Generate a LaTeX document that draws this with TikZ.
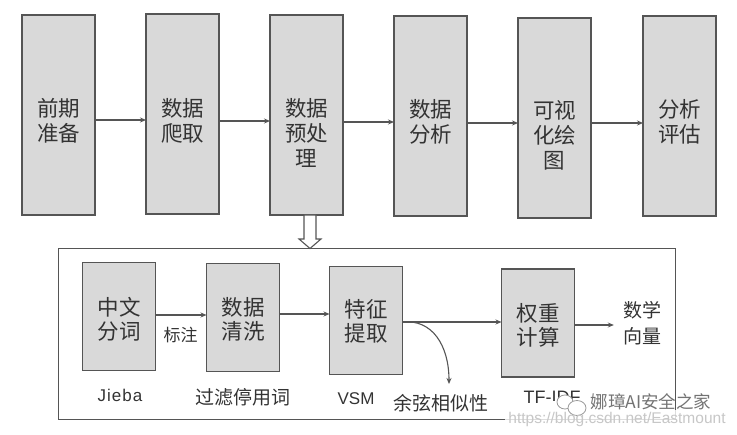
\documentclass[tikz,border=0pt]{standalone}
\usepackage{fontspec}
\setmainfont{Liberation Sans}
\newfontfamily\cjk{Noto Sans CJK SC}
\definecolor{linec}{HTML}{555555}
\definecolor{boxc}{HTML}{D9D9D9}
\definecolor{textc}{HTML}{333333}
\usetikzlibrary{arrows.meta}
\tikzset{
  tallbox/.style={draw=linec,fill=boxc,line width=1.1pt,minimum width=73pt,minimum height=200pt,inner sep=0pt,outer sep=0pt},
  lowbox/.style={draw=linec,fill=boxc,line width=1.1pt,minimum width=73pt,minimum height=108pt,inner sep=0pt,outer sep=0pt},
  bigtext/.style={font=\cjk\fontsize{21.5}{25}\selectfont,text=textc,align=center,inner sep=0pt},
  midtext/.style={font=\cjk\fontsize{21.5}{24}\selectfont,text=textc,align=center,inner sep=0pt},
  smalltext/.style={font=\cjk\fontsize{19}{26}\selectfont,text=textc,align=center,inner sep=0pt},
  labeltext/.style={font=\cjk\fontsize{17}{20}\selectfont,text=textc,inner sep=0pt},
  latintext/.style={font=\fontsize{17}{20}\selectfont,text=textc,inner sep=0pt},
  flow/.style={draw=linec,line width=1.1pt,-{Stealth[length=6pt,width=5pt]}},
}
\begin{document}
\begin{tikzpicture}[x=1pt,y=-1pt]
\useasboundingbox (0,0) rectangle (737,435);
\fill[white] (0,0) rectangle (737,435);
% lower frame
\node[draw=linec,line width=1pt,fill=white,minimum width=617pt,minimum height=171pt,inner sep=0pt,outer sep=0pt] (frame) at (366.5,334.5) {};
% top row
\node[tallbox] (b1) at (58.5,115) {};
\node[tallbox] (b2) at (182.5,114) {};
\node[tallbox] (b3) at (306.5,115) {};
\node[tallbox] (b4) at (430.5,116) {};
\node[tallbox] (b5) at (554.5,118) {};
\node[tallbox] (b6) at (679.5,116) {};
\node[bigtext] (t1) at (58.5,120.5) {前期\\准备};
\node[bigtext] (t2) at (182.5,120.5) {数据\\爬取};
\node[bigtext] (t3) at (306.5,133) {数据\\预处\\理};
\node[bigtext] (t4) at (430.5,122) {数据\\分析};
\node[bigtext] (t5) at (554.5,135) {可视\\化绘\\图};
\node[bigtext] (t6) at (679.5,122) {分析\\评估};
\draw[flow] ([yshift=-5pt]b1.east) -- ([yshift=-5pt]b1.east -| b2.west);
\draw[flow] ([yshift=-7pt]b2.east) -- ([yshift=-7pt]b2.east -| b3.west);
\draw[flow] ([yshift=-7pt]b3.east) -- ([yshift=-7pt]b3.east -| b4.west);
\draw[flow] ([yshift=-7pt]b4.east) -- ([yshift=-7pt]b4.east -| b5.west);
\draw[flow] ([yshift=-5pt]b5.east) -- ([yshift=-5pt]b5.east -| b6.west);
% hollow arrow
\draw[draw=linec,line width=1.1pt,fill=white,line join=miter]
  ([xshift=-2.5pt]b3.south) -- ++(0,24) -- ++(-5,0) -- ++(11,9.5) -- ++(11,-9.5) -- ++(-5,0) -- ++(0,-24) -- cycle;
% lower row
\node[lowbox] (c1) at (119,316.5) {};
\node[lowbox] (c2) at (243,317.5) {};
\node[lowbox] (c3) at (366,320.5) {};
\node[lowbox] (c4) at (538,323) {};
\node[midtext] (s1) at (119,319) {中文\\分词};
\node[midtext] (s2) at (243,319) {数据\\清洗};
\node[midtext] (s3) at (366,321) {特征\\提取};
\node[midtext] (s4) at (538,325) {权重\\计算};
\node[smalltext] (vec) at (642,323) {数学\\向量};
\coordinate (cosend) at (449,384);
\draw[flow] ([yshift=1.5pt]c1.east) -- ([yshift=1.5pt]c1.east -| c2.west);
\draw[flow] ([yshift=3.5pt]c2.east) -- ([yshift=3.5pt]c2.east -| c3.west);
\draw[flow] ([yshift=-1.5pt]c3.east) -- ([yshift=-1.5pt]c3.east -| c4.west);
\draw[flow] ([yshift=-2pt]c4.east) -- ([xshift=-9pt,yshift=-2pt]c4.east -| vec.west);
\draw[flow] ([yshift=-1.5pt]c3.east) .. controls (432,319) and (449,345) .. (cosend);
\node[labeltext] (l1) at (180.5,335) {标注};
\node[latintext,font=\addfontfeature{LetterSpace=6}\fontsize{17}{20}\selectfont] (l2) at (120,395) {Jieba};
\node[smalltext] (l3) at (243,397) {过滤停用词};
\node[latintext] (l4) at (356,398.5) {VSM};
\node[smalltext] (l5) at (441,403) {余弦相似性};
\node[latintext,font=\fontsize{18}{20}\selectfont] (l6) at (552,397) {TF-IDF};
% watermark
\fill[white,opacity=0.8] (505,410) rectangle (730,426);
\fill[white] (540,401) rectangle (590,416);
\draw[gray!80,line width=0.8pt,fill=white] (565,402) ellipse (8 and 7);
\draw[gray!80,line width=0.8pt,fill=white] (577,408) ellipse (9 and 7.5);
\node[font=\cjk\fontsize{17.5}{20}\selectfont,text=black!55,inner sep=0pt] (wm) at (651,402) {娜璋AI安全之家};
\node[font=\fontsize{15.5}{18}\selectfont,text=black!22,inner sep=0pt] (url) at (617,419) {https://blog.csdn.net/Eastmount};
\end{tikzpicture}
\end{document}
